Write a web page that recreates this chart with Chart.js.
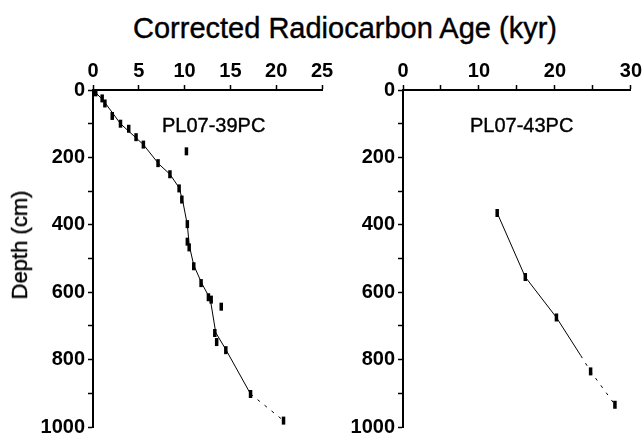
<!DOCTYPE html>
<html lang="en">
<head>
  <meta charset="UTF-8">
  <title>Corrected Radiocarbon Age</title>
  <script src="https://cdn.jsdelivr.net/npm/chart.js"></script>
  <style>
    body {
      margin: 0;
      background: #ffffff;
      font-family: "Liberation Sans", Arial, sans-serif;
      color: #000;
    }
    #wrap { position: relative; width: 644px; height: 442px; overflow: hidden; }
    #title {
      position: absolute; left: 0; width: 690px; top: 12px;
      text-align: center; font-size: 29px;
      -webkit-text-stroke: 0.4px #000;
    }
    .core {
      position: absolute; top: 114px; font-size: 20px;
      -webkit-text-stroke: 0.4px #000;
    }
    #ytitle {
      position: absolute; left: 20px; top: 245px; font-size: 22px;
      white-space: nowrap;
      -webkit-text-stroke: 0.4px #000;
      transform: translate(-50%, -50%) rotate(-90deg);
    }
    #box39 { position: absolute; left: 0; top: 0; width: 336px; height: 442px; }
    #box43 { position: absolute; left: 336px; top: 0; width: 308px; height: 442px; }
  </style>
</head>
<body>
<div id="wrap">
  <div id="title">Corrected Radiocarbon Age (kyr)</div>
  <div id="box39"><canvas id="c39"></canvas></div>
  <div id="box43"><canvas id="c43"></canvas></div>
  <div class="core" style="left:162px">PL07-39PC</div>
  <div class="core" style="left:470px">PL07-43PC</div>
  <div id="ytitle">Depth (cm)</div>
</div>

<script>
  // PL07-39PC dated samples (age kyr, depth cm)
  const age39   = [0.3, 1.0, 1.3, 2.1, 3.0, 3.9, 4.7, 5.5, 7.1, 10.2, 8.4, 9.4, 9.7, 10.3, 10.3, 10.5, 11.0, 11.8, 12.6, 12.9, 14.0, 13.3, 13.5, 14.5, 17.2, 20.8];
  const depth39 = [7, 25, 40, 77, 100, 115, 140, 162, 217, 182, 250, 292, 325, 398, 450, 467, 523, 573, 615, 622, 643, 721, 748, 772, 902, 981];
  // PL07-39PC age model
  const modelAge39   = [0, 1.1, 3.0, 5.5, 7.2, 8.4, 9.4, 9.8, 10.3, 10.5, 11.0, 11.9, 12.8, 13.4, 14.5, 17.2, 20.8];
  const modelDepth39 = [0, 30, 100, 162, 220, 250, 290, 330, 400, 460, 520, 575, 620, 720, 770, 902, 981];

  // PL07-43PC dated samples
  const age43   = [12.4, 16.1, 20.2, 24.7, 27.9];
  const depth43 = [365, 555, 675, 835, 934];
  // PL07-43PC age model
  const modelAge43   = [12.4, 16.1, 20.2, 23.4, 24.7, 27.9];
  const modelDepth43 = [365, 555, 675, 788, 835, 934];

  const depthTicks = [0, 200, 400, 600, 800, 1000];

  const FONT = "'Liberation Sans', Arial, sans-serif";

  function pairs(xs, ys) {
    return xs.map((x, i) => ({ x: x, y: ys[i] }));
  }

  function makeChart(id, opt) {
    const ctx = document.getElementById(id).getContext('2d');
    return new Chart(ctx, {
      type: 'scatter',
      data: {
        datasets: [
          {
            label: 'model',
            data: pairs(opt.modelAge, opt.modelDepth),
            showLine: true,
            borderColor: '#000',
            borderWidth: 1,
            pointRadius: 0,
            segment: {
              borderDash: c => c.p0DataIndex >= opt.dashFrom ? [3, 6] : undefined
            }
          },
          {
            label: 'samples',
            data: pairs(opt.age, opt.depth),
            showLine: false,
            pointStyle: 'line',
            rotation: 90,
            pointRadius: 4,
            borderWidth: 3.5,
            borderColor: '#000',
            backgroundColor: '#000'
          }
        ]
      },
      options: {
        responsive: true,
        maintainAspectRatio: false,
        animation: false,
        layout: { padding: { top: 0, right: opt.padRight, bottom: 4, left: 0 } },
        plugins: { legend: { display: false }, tooltip: { enabled: false } },
        scales: {
          x: {
            type: 'linear',
            position: 'top',
            min: 0,
            max: opt.xMax,
            afterFit: s => { s.height = 90; },
            ticks: {
              stepSize: opt.xStep,
              color: '#000',
              font: { family: FONT, size: 20, weight: 'bold' },
              padding: 2,
              maxRotation: 0,
              callback: v => (v % opt.xLabelEvery === 0 ? v : '')
            },
            grid: { drawOnChartArea: false, color: '#000', tickLength: 5, tickWidth: 1.5 },
            border: { color: '#000', width: 2 }
          },
          y: {
            type: 'linear',
            reverse: true,
            min: 0,
            max: 1000,
            afterFit: s => { s.width = opt.yWidth; },
            ticks: {
              stepSize: 50,
              color: '#000',
              font: { family: FONT, size: 20, weight: 'bold' },
              padding: 3,
              callback: v => (depthTicks.includes(v) ? v : '')
            },
            grid: { drawOnChartArea: false, color: '#000', tickLength: 5, tickWidth: 1.5 },
            border: { color: '#000', width: 2 }
          }
        }
      }
    });
  }

  makeChart('c39', {
    age: age39, depth: depth39, modelAge: modelAge39, modelDepth: modelDepth39,
    dashFrom: 15, xMax: 25, xStep: 2.5, xLabelEvery: 5,
    yWidth: 93, padRight: 14
  });

  makeChart('c43', {
    age: age43, depth: depth43, modelAge: modelAge43, modelDepth: modelDepth43,
    dashFrom: 3, xMax: 30, xStep: 5, xLabelEvery: 10,
    yWidth: 67, padRight: 11
  });
</script>
</body>
</html>
